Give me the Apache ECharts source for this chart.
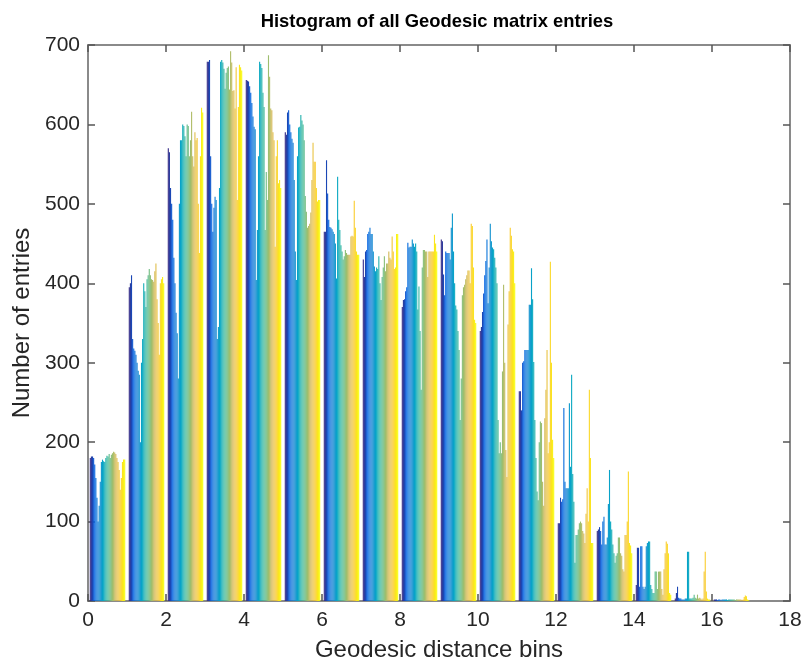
<!DOCTYPE html>
<html>
<head>
<meta charset="utf-8">
<script src="https://cdn.jsdelivr.net/npm/echarts@6/dist/echarts.min.js"></script>
<style>
  html, body { margin: 0; padding: 0; background: #ffffff; }
  #chart { width: 806px; height: 669px; }
</style>
</head>
<body>
<div id="chart"></div>
<script>
// Bin indices (unit-wide bins, centred at 0.5, 1.5, ...)
const binIndex = ['0','1','2','3','4','5','6','7','8','9','10','11','12','13','14','15','16','17'];

// Counts per bin, one value per matrix column (32 columns)
const bin00 = [180,182,182,180,172,155,130,100,120,150,175,178,176,175,180,183,182,185,180,184,186,188,187,185,180,175,165,140,155,175,178,178];
const bin01 = [395,400,410,330,318,315,310,300,290,285,200,300,330,400,390,370,405,410,418,410,405,404,402,415,425,380,350,310,400,405,408,400];
const bin02 = [570,565,520,500,480,432,400,363,337,280,500,580,580,600,598,585,560,600,598,560,580,616,560,547,590,580,583,500,438,560,621,615];
const bin03 = [679,679,681,560,500,465,495,509,505,330,345,520,679,681,678,670,645,665,671,673,644,692,678,642,643,620,672,505,622,675,672,668];
const bin04 = [656,655,654,648,640,627,610,597,594,404,467,560,679,676,671,640,622,467,540,505,687,660,620,618,590,580,446,560,580,526,530,520];
const bin05 = [590,587,615,618,600,590,582,577,530,440,404,560,596,597,612,605,600,580,510,490,470,472,475,489,530,577,553,553,520,503,505,505];
const bin06 = [465,465,555,513,480,471,470,468,465,462,450,406,534,480,467,448,440,430,434,442,438,436,436,436,459,460,459,504,470,440,436,436];
const bin07 = [430,408,440,442,462,465,470,462,462,440,421,415,420,418,434,400,379,408,420,434,415,425,425,440,432,430,459,440,418,420,462,462];
const bin08 = [370,379,380,390,395,451,445,446,446,455,450,446,450,440,367,396,340,266,420,442,442,440,440,408,440,440,440,440,440,461,450,440];
const bin09 = [455,453,411,385,440,438,438,438,430,470,488,440,400,372,367,340,316,228,280,385,395,398,405,410,416,416,400,475,472,420,354,350];
const bin10 = [340,345,364,387,410,428,455,375,420,475,453,445,443,432,420,400,228,186,200,186,289,398,300,190,156,348,390,470,460,443,440,400];
const bin11 = [264,264,240,300,302,316,316,316,316,373,373,419,380,301,228,180,138,127,200,226,224,150,120,230,266,316,186,200,427,300,203,180];
const bin12 = [98,98,130,125,128,243,150,142,142,142,249,169,285,160,125,48,83,83,90,98,100,98,88,85,73,110,142,100,266,180,73,73];
const bin13 = [88,90,93,88,71,100,106,71,71,80,122,165,100,90,71,60,48,57,60,80,80,60,57,40,37,83,83,100,163,73,70,60];
const bin14 = [20,67,67,18,69,69,18,15,18,69,73,75,75,20,15,10,10,37,37,15,37,37,37,15,8,40,60,75,72,60,10,8];
const bin15 = [3,10,18,4,3,3,2,2,2,3,3,62,62,3,3,3,4,8,4,3,8,3,4,3,2,3,37,62,12,3,2,2];
const bin16 = [2,2,2,1,2,2,1,2,2,2,2,2,1,2,2,2,2,2,2,1,2,2,2,2,2,1,2,5,7,6,2,1];

const bins = [bin00, bin01, bin02, bin03, bin04, bin05, bin06, bin07, bin08,
              bin09, bin10, bin11, bin12, bin13, bin14, bin15, bin16];

// Axis ticks
const xTicks = { min: 0, max: 18, interval: 2 };
const yTicks = { min: 0, max: 700, interval: 100 };

// Parula-like colormap stops
const parula = ['#352a87', '#0363e1', '#1485d4', '#06a7c6', '#38b99e',
                '#92bf73', '#d9ba56', '#fcce2e', '#f9fb0e'];

function hexToRgb(h) {
  return [parseInt(h.slice(1, 3), 16), parseInt(h.slice(3, 5), 16), parseInt(h.slice(5, 7), 16)];
}
function colormap(t) {
  const p = t * (parula.length - 1);
  const i = Math.min(Math.floor(p), parula.length - 2);
  const f = p - i;
  const a = hexToRgb(parula[i]), b = hexToRgb(parula[i + 1]);
  const c = a.map((v, k) => Math.round(v + (b[k] - v) * f));
  return 'rgb(' + c.join(',') + ')';
}

const nCols = bin00.length;
const series = [];
for (let s = 0; s < nCols; s++) {
  series.push({
    type: 'bar',
    xAxisIndex: 0,
    yAxisIndex: 0,
    data: bins.map(b => b[s]),
    barGap: '0%',
    barCategoryGap: '9%',
    itemStyle: { color: colormap(s / (nCols - 1)) },
    silent: true
  });
}

const textColor = '#262626';
const axisColor = '#8a8a8a';
const fontFamily = '"Liberation Sans", Arial, sans-serif';

const boxAxis = {
  axisLine: { show: true, onZero: false, lineStyle: { color: axisColor, width: 2 } },
  axisTick: { show: true, inside: true, length: 7, lineStyle: { color: '#555555', width: 1.5 } },
  splitLine: { show: false }
};

const chart = echarts.init(document.getElementById('chart'), null, { renderer: 'canvas' });
chart.setOption({
  animation: false,
  backgroundColor: '#ffffff',
  title: {
    text: 'Histogram of all Geodesic matrix entries',
    left: 432,
    top: 8,
    textAlign: 'center',
    textStyle: { fontFamily, fontSize: 18.4, fontWeight: 'bold', color: '#000000' }
  },
  grid: { left: 88, right: 16, top: 45, bottom: 68, containLabel: false },
  xAxis: [
    { type: 'category', data: binIndex, show: false, boundaryGap: true },
    Object.assign({
      type: 'value', position: 'bottom',
      min: xTicks.min, max: xTicks.max, interval: xTicks.interval,
      name: 'Geodesic distance bins', nameLocation: 'middle', nameGap: 37,
      nameTextStyle: { fontFamily, fontSize: 24, color: textColor },
      axisLabel: { fontFamily, fontSize: 21, color: textColor, margin: 9 }
    }, boxAxis),
    Object.assign({
      type: 'value', position: 'top',
      min: xTicks.min, max: xTicks.max, interval: xTicks.interval,
      axisLabel: { show: false }
    }, boxAxis)
  ],
  yAxis: [
    Object.assign({
      type: 'value', position: 'left',
      min: yTicks.min, max: yTicks.max, interval: yTicks.interval,
      name: 'Number of entries', nameLocation: 'middle', nameGap: 54,
      nameTextStyle: { fontFamily, fontSize: 24, color: textColor },
      axisLabel: { fontFamily, fontSize: 21, color: textColor, margin: 8 }
    }, boxAxis),
    Object.assign({
      type: 'value', position: 'right',
      min: yTicks.min, max: yTicks.max, interval: yTicks.interval,
      axisLabel: { show: false }
    }, boxAxis)
  ],
  series: series
});
</script>
</body>
</html>
